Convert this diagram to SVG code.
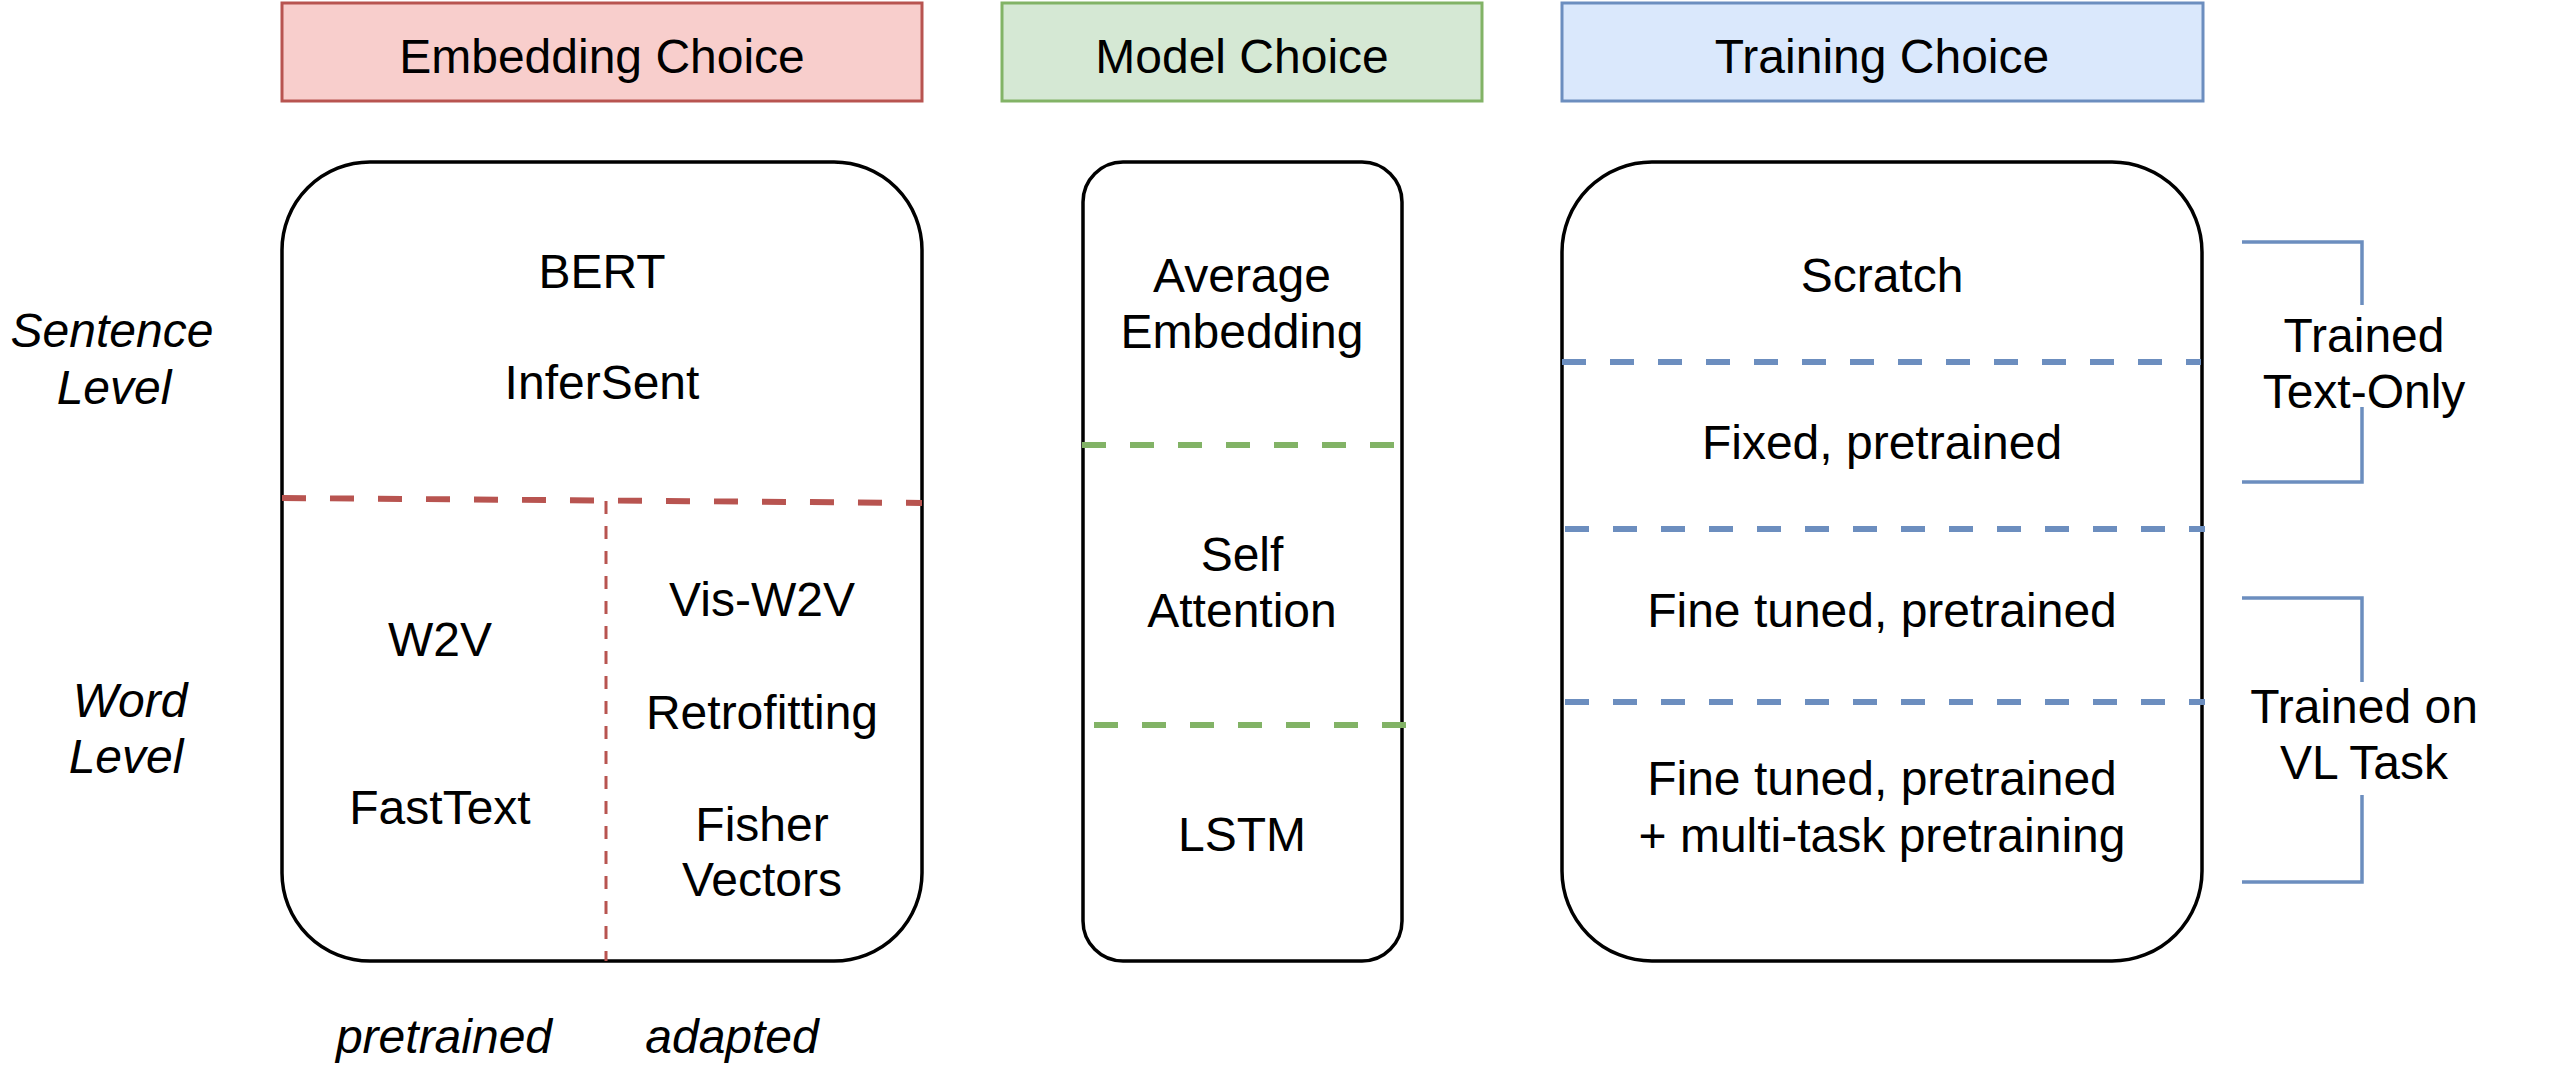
<svg xmlns="http://www.w3.org/2000/svg" width="2568" height="1084" viewBox="0 0 2568 1084">
  <style>
    text { font-family: "Liberation Sans", Arial, Helvetica, sans-serif; font-size: 48px; fill: #000; text-anchor: middle; }
    .it { font-style: italic; }
    .panel { fill: #fff; stroke: #000; stroke-width: 3.5; }
    .hdr { stroke-width: 3; }
    .red { fill: #f8cecc; stroke: #b85450; }
    .green { fill: #d5e8d4; stroke: #82b366; }
    .blue { fill: #dae8fc; stroke: #6c8ebf; }
    .div { fill: none; stroke-width: 6; stroke-dasharray: 24 24; }
    .div-red { stroke: #b85450; }
    .div-green { stroke: #82b366; }
    .div-blue { stroke: #6c8ebf; }
    .vsplit { fill: none; stroke: #b85450; stroke-width: 3; stroke-dasharray: 13 12; }
    .brace { fill: none; stroke: #6c8ebf; stroke-width: 3.5; }
  </style>

  <rect width="2568" height="1084" fill="#fff"/>

  <!-- column headers -->
  <g id="hdr-embedding">
    <rect class="hdr red" x="282" y="3" width="640" height="98"/>
    <text x="602" y="73">Embedding Choice</text>
  </g>
  <g id="hdr-model">
    <rect class="hdr green" x="1002" y="3" width="480" height="98"/>
    <text x="1242" y="73">Model Choice</text>
  </g>
  <g id="hdr-training">
    <rect class="hdr blue" x="1562" y="3" width="641" height="98"/>
    <text x="1882" y="73">Training Choice</text>
  </g>

  <!-- row labels -->
  <g id="lbl-sentence">
    <text class="it" x="112" y="347">Sentence</text>
    <text class="it" x="114" y="404">Level</text>
  </g>
  <g id="lbl-word">
    <text class="it" x="130" y="717">Word</text>
    <text class="it" x="126" y="773">Level</text>
  </g>

  <!-- embedding panel -->
  <g id="panel-embedding">
    <rect class="panel" x="282" y="162" width="640" height="799" rx="88" ry="88"/>
    <line class="div div-red" x1="282" y1="498" x2="922" y2="503"/>
    <line class="vsplit" x1="606" y1="501" x2="606" y2="961"/>
    <text x="602" y="288">BERT</text>
    <text x="602" y="399">InferSent</text>
    <text x="440" y="656">W2V</text>
    <text x="440" y="824">FastText</text>
    <text x="762" y="616">Vis-W2V</text>
    <text x="762" y="729">Retrofitting</text>
    <text x="762" y="841">Fisher</text>
    <text x="762" y="896">Vectors</text>
  </g>
  <g id="lbl-pretrained">
    <text class="it" x="444" y="1053">pretrained</text>
  </g>
  <g id="lbl-adapted">
    <text class="it" x="732" y="1053">adapted</text>
  </g>

  <!-- model panel -->
  <g id="panel-model">
    <rect class="panel" x="1083" y="162" width="319" height="799" rx="40" ry="40"/>
    <line class="div div-green" x1="1082" y1="445" x2="1394" y2="445"/>
    <line class="div div-green" x1="1094" y1="725" x2="1406" y2="725"/>
    <text x="1242" y="292">Average</text>
    <text x="1242" y="348">Embedding</text>
    <text x="1242" y="571">Self</text>
    <text x="1242" y="627">Attention</text>
    <text x="1242" y="851">LSTM</text>
  </g>

  <!-- training panel -->
  <g id="panel-training">
    <rect class="panel" x="1562" y="162" width="640" height="799" rx="90" ry="90"/>
    <line class="div div-blue" x1="1562" y1="362" x2="2201" y2="362"/>
    <line class="div div-blue" x1="1565" y1="529" x2="2205" y2="529"/>
    <line class="div div-blue" x1="1565" y1="702" x2="2205" y2="702"/>
    <text x="1882" y="292">Scratch</text>
    <text x="1882" y="459">Fixed, pretrained</text>
    <text x="1882" y="627">Fine tuned, pretrained</text>
    <text x="1882" y="795">Fine tuned, pretrained</text>
    <text x="1882" y="852">+ multi-task pretraining</text>
  </g>

  <!-- group brackets -->
  <g id="connectors">
    <path class="brace" d="M2242 242 H2362 V305 M2362 407 V482 H2242"/>
    <path class="brace" d="M2242 598 H2362 V682 M2362 795 V882 H2242"/>
  </g>
  <g id="lbl-text-only">
    <text x="2364" y="352">Trained</text>
    <text x="2364" y="408">Text-Only</text>
  </g>
  <g id="lbl-vl-task">
    <text x="2364" y="723">Trained on</text>
    <text x="2364" y="779">VL Task</text>
  </g>
</svg>
